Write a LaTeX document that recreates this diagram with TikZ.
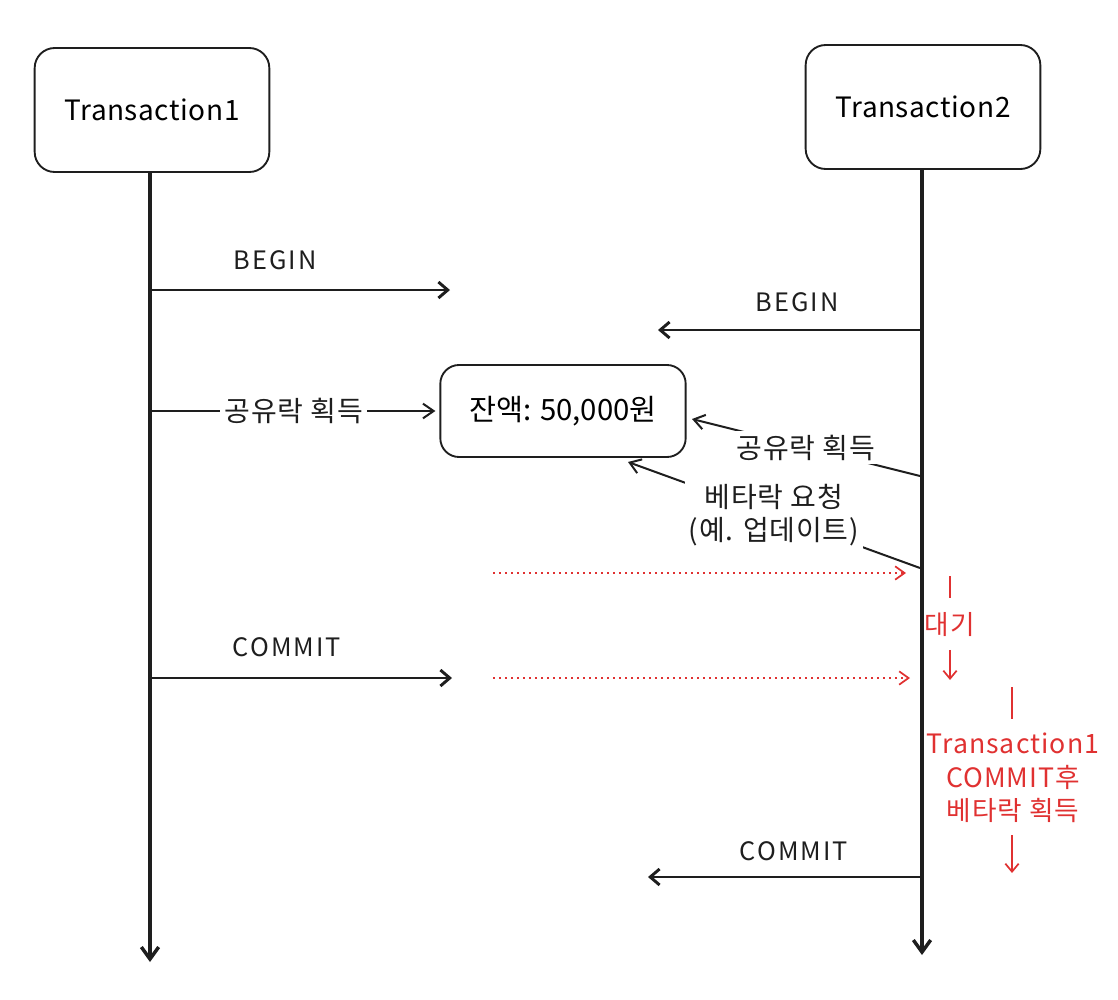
\documentclass[tikz,border=0pt]{standalone}
\usepackage{fontspec}
\setmainfont{Noto Sans CJK KR}
\usepackage{xcolor}
\usepackage{tikz}
\usetikzlibrary{arrows.meta,positioning}

\definecolor{ink}{HTML}{1E1E1E}
\definecolor{notered}{HTML}{E03131}

\begin{document}
\begin{tikzpicture}[
    x=0.75pt, y=-0.75pt,
    actor/.style={draw=ink, line width=1.4pt, rounded corners=15pt, minimum width=176pt, minimum height=93pt, font=\fontsize{21}{24}\selectfont\addfontfeatures{LetterSpace=2}},
    record/.style={draw=ink, line width=1.4pt, rounded corners=14pt, minimum width=184pt, minimum height=69pt, font=\fontsize{22}{24}\selectfont},
    lifeline/.style={ink, line width=2.6pt, -{Straight Barb[length=9pt,width=13pt]}},
    msg/.style={ink, line width=2.2pt, -{Straight Barb[length=7pt,width=12pt]}},
    lock/.style={ink, line width=1.5pt, -{Straight Barb[length=8pt,width=11pt]}},
    waiting/.style={notered, line width=1.3pt, dash pattern=on 1.3pt off 3.2pt, -{Straight Barb[length=7pt,width=10pt]}},
    msglabel/.style={text=ink, font=\fontsize{19}{22}\selectfont\addfontfeatures{LetterSpace=8}},
    locklabel/.style={fill=white, text=ink, inner sep=3pt, align=center, font=\fontsize{21}{25}\selectfont\addfontfeatures{LetterSpace=3}},
    note/.style={text=notered, align=center, font=\fontsize{20}{25}\selectfont\addfontfeatures{LetterSpace=4}},
    notebar/.style={notered, line width=1.3pt},
    notearrow/.style={notered, line width=1.3pt, -{Straight Barb[length=6pt,width=10pt]}}
]
\useasboundingbox (0,0) rectangle (1118,1000);

% transactions
\node[actor] (t1) at (152,110) {Transaction1};
\node[actor] (t2) at (923,107) {Transaction2};
\node[record] (balance) at (563,411) {잔액: 50,000원};

% lifelines
\coordinate (t1end) at (150,962);
\coordinate (t2end) at (922,955);
\draw[lifeline] (t1.south -| t1end) -- (t1end);
\draw[lifeline] (t2.south -| t2end) -- (t2end);

% BEGIN
\coordinate (t1begin) at (150,290);
\coordinate (t1beginend) at (450,290);
\draw[msg] (t1begin) -- (t1beginend);
\node[msglabel] (begin1) at (275,260) {BEGIN};
\coordinate (t2begin) at (922,330);
\coordinate (t2beginend) at (658,330);
\draw[msg] (t2begin) -- (t2beginend);
\node[msglabel] (begin2) at (797,302) {BEGIN};

% locks
\coordinate (t1share) at (152,411);
\draw[lock] (t1share) -- node[locklabel] (share1) {공유락 획득} ([xshift=-3pt]balance.west);
\coordinate (t2share) at (920,476);
\coordinate (t2sharetip) at (692,419);
\draw[lock] (t2share) -- node[locklabel] (share2) {공유락 획득} (t2sharetip);
\coordinate (t2excl) at (920,568);
\coordinate (t2excltip) at (628,462);
\draw[lock] (t2excl) -- node[locklabel] (excl) {베타락 요청\\(예. 업데이트)} (t2excltip);

% waiting
\coordinate (wait1) at (493,573);
\coordinate (wait1end) at (906,573);
\draw[waiting] (wait1) -- (wait1end);
\coordinate (wait2) at (493,678);
\coordinate (wait2end) at (910,678);
\draw[waiting] (wait2) -- (wait2end);

% COMMIT
\coordinate (t1commit) at (152,678);
\coordinate (t1commitend) at (452,678);
\draw[msg] (t1commit) -- (t1commitend);
\node[msglabel] (commit1) at (287,647) {COMMIT};
\coordinate (t2commit) at (920,877);
\coordinate (t2commitend) at (648,877);
\draw[msg] (t2commit) -- (t2commitend);
\node[msglabel] (commit2) at (794,851) {COMMIT};

% notes
\node[note] (wait) at (950,625) {대기};
\coordinate (waitbar) at (950,576);
\coordinate (waitend) at (950,680);
\draw[notebar] (waitbar) -- ([yshift=8pt]wait.north);
\draw[notearrow] ([yshift=-6pt]wait.south) -- (waitend);

\node[note] (acquire) at (1013,778) {Transaction1\\COMMIT후\\베타락 획득};
\coordinate (acquirebar) at (1012,687);
\coordinate (acquireend) at (1012,873);
\draw[notebar] (acquirebar) -- ([yshift=7pt]acquire.north -| acquirebar);
\draw[notearrow] ([yshift=-6pt]acquire.south -| acquireend) -- (acquireend);

\end{tikzpicture}
\end{document}
